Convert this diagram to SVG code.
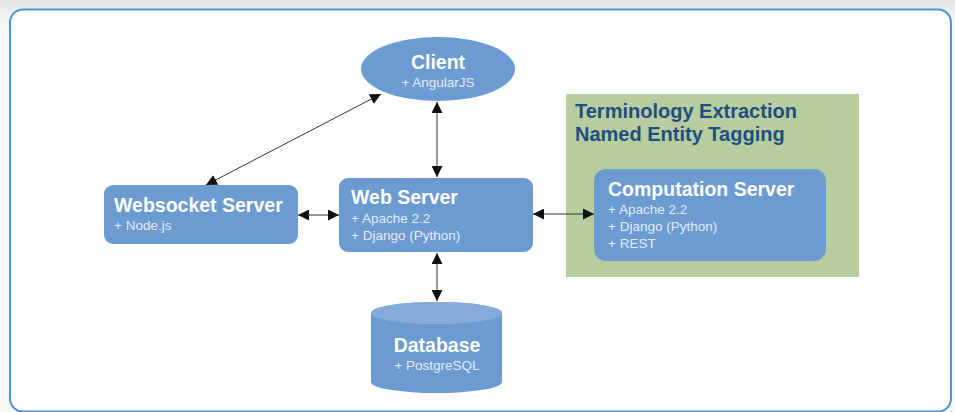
<svg xmlns="http://www.w3.org/2000/svg" width="955" height="412" viewBox="0 0 955 412">
<defs>
<linearGradient id="bg" x1="0" y1="0" x2="0" y2="1">
<stop offset="0" stop-color="#e6e6e6"/><stop offset="0.06" stop-color="#f7f7f7"/><stop offset="1" stop-color="#f7f7f7"/>
</linearGradient>
<marker id="ah" viewBox="0 0 10 10" refX="10" refY="5" markerWidth="11" markerHeight="11" markerUnits="userSpaceOnUse" orient="auto-start-reverse">
<path d="M0,0 L10,5 L0,10 z" fill="#111"/>
</marker>
<style>
.node{fill:#6b9bd1;}
.title{font-family:"Liberation Sans",Arial,sans-serif;font-weight:bold;font-size:19.5px;fill:#ffffff;}
.sub{font-family:"Liberation Sans",Arial,sans-serif;font-size:13.5px;fill:#e4ecf7;}
.grp{font-family:"Liberation Sans",Arial,sans-serif;font-weight:bold;font-size:20px;fill:#1f4f82;}
.conn{stroke:#333;stroke-width:1;fill:none;marker-start:url(#ah);marker-end:url(#ah);}
</style>
</defs>
<rect x="0" y="0" width="955" height="412" fill="url(#bg)"/>
<rect x="10" y="9.5" width="941" height="402" rx="13" fill="#ffffff" stroke="#4a96d8" stroke-width="2"/>

<g id="group-nlp">
<rect x="566" y="94" width="293" height="183" fill="#b7cc9f"/>
<text class="grp" x="575" y="118">Terminology Extraction</text>
<text class="grp" x="575" y="141">Named Entity Tagging</text>
</g>

<g id="client">
<ellipse class="node" cx="438" cy="69" rx="77" ry="32"/>
<text class="title" x="438" y="69" text-anchor="middle">Client</text>
<text class="sub" x="438" y="87" text-anchor="middle">+ AngularJS</text>
</g>

<g id="websocket">
<rect class="node" x="104" y="185" width="194" height="59" rx="9"/>
<text class="title" x="114" y="212">Websocket Server</text>
<text class="sub" x="114" y="230">+ Node.js</text>
</g>

<g id="webserver">
<rect class="node" x="339" y="178" width="194" height="74" rx="9"/>
<text class="title" x="351" y="204">Web Server</text>
<text class="sub" x="351" y="223">+ Apache 2.2</text>
<text class="sub" x="351" y="240">+ Django (Python)</text>
</g>

<g id="computation">
<rect class="node" x="594" y="169" width="232" height="92" rx="12"/>
<text class="title" x="608" y="196">Computation Server</text>
<text class="sub" x="608" y="214">+ Apache 2.2</text>
<text class="sub" x="608" y="231">+ Django (Python)</text>
<text class="sub" x="608" y="248">+ REST</text>
</g>

<g id="database">
<path class="node" d="M371,313 A65.5,11 0 0 1 502,313 L502,382 A65.5,11 0 0 1 371,382 Z"/>
<ellipse cx="436.5" cy="313" rx="65.5" ry="11" fill="#85acd9"/>
<text class="title" x="437" y="352" text-anchor="middle">Database</text>
<text class="sub" x="437" y="370" text-anchor="middle">+ PostgreSQL</text>
</g>

<g id="connectors">
<line class="conn" x1="206" y1="185" x2="381" y2="94"/>
<line class="conn" x1="437" y1="102" x2="437" y2="177"/>
<line class="conn" x1="298" y1="215" x2="339" y2="215"/>
<line class="conn" x1="533" y1="214" x2="594" y2="214"/>
<line class="conn" x1="437" y1="253" x2="437" y2="301"/>
</g>
</svg>
